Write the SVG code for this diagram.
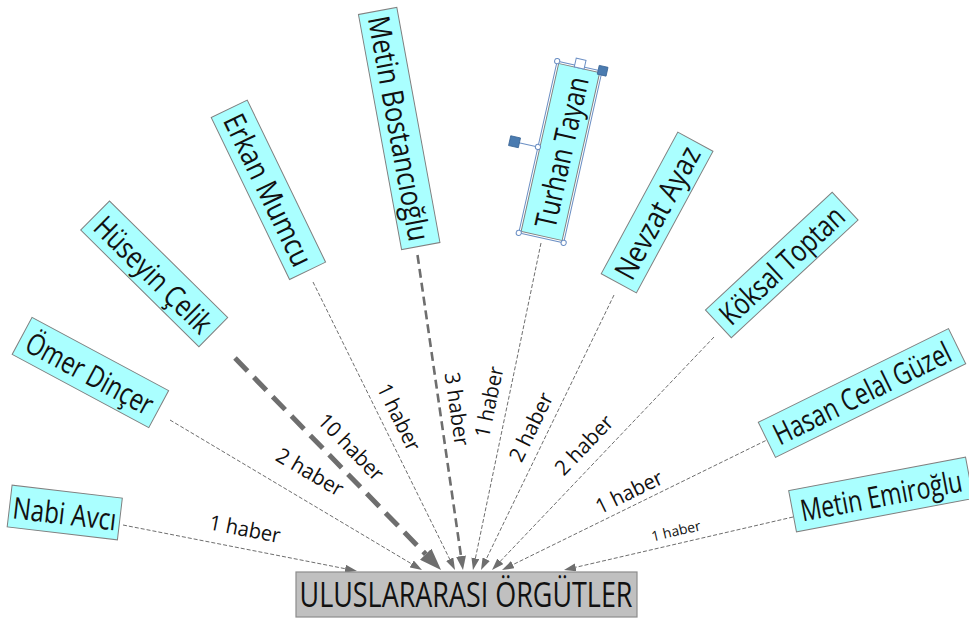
<svg xmlns="http://www.w3.org/2000/svg" width="969" height="619" viewBox="0 0 969 619">
  <style>
    .node rect.box { fill: #aaffff; stroke: #808080; stroke-width: 1; }
    .node text { font-family: "Open Sans", "Noto Sans", "DejaVu Sans", sans-serif; font-size: 30px; fill: #111; text-anchor: middle; }
    .hub rect { fill: #c0c0c0; stroke: #8c8c8c; stroke-width: 1.2; }
    .hub text { font-family: "Open Sans", "Noto Sans", "DejaVu Sans", sans-serif; font-size: 35px; fill: #111; text-anchor: middle; }
    .edge { fill: none; stroke: #6e6e6e; }
    .w1 { stroke-width: 1; stroke-dasharray: 4 2; marker-end: url(#head-s); }
    .w2 { stroke-width: 2.6; stroke-dasharray: 9 5; marker-end: url(#head-m); }
    .w3 { stroke-width: 5; stroke-dasharray: 18 9; marker-end: url(#head-l); }
    .elabel { font-family: "Open Sans", "Noto Sans", "DejaVu Sans", sans-serif; font-size: 21px; fill: #111; text-anchor: middle; }
    .elabel.small { font-size: 14px; }
    .sel { fill: none; stroke: #6b8fc4; stroke-width: 1; }
    .grip { fill: #fff; stroke: #6b8fc4; stroke-width: 1; }
    .knob { fill: #4a7bb0; stroke: #3a6696; stroke-width: 0.8; }
  </style>
  <defs>
    <marker id="head-s" markerUnits="userSpaceOnUse" viewBox="0 0 12 8" markerWidth="12" markerHeight="8" refX="0" refY="4" orient="auto">
      <path d="M0,0 L12,4 L0,8 Z" fill="#6e6e6e"/>
    </marker>
    <marker id="head-m" markerUnits="userSpaceOnUse" viewBox="0 0 14 10" markerWidth="14" markerHeight="10" refX="0" refY="5" orient="auto">
      <path d="M0,0 L14,5 L0,10 Z" fill="#6e6e6e"/>
    </marker>
    <marker id="head-l" markerUnits="userSpaceOnUse" viewBox="0 0 22 16" markerWidth="22" markerHeight="16" refX="0" refY="8" orient="auto">
      <path d="M0,0 L22,8 L0,16 Z" fill="#6e6e6e"/>
    </marker>
  </defs>

  <rect width="969" height="619" fill="#ffffff"/>

  <!-- connectors: each line stops at the base of its arrowhead -->
  <g id="edges">
    <path class="edge w1" d="M123,525 L345.2,568.7"/>
    <path class="edge w1" d="M170,420 L411.7,563.9"/>
    <path class="edge w3" d="M235,358 L425.7,554.2"/>
    <path class="edge w1" d="M313,282 L449.7,559.2"/>
    <path class="edge w2" d="M417.5,255 L461,556.1"/>
    <path class="edge w1" d="M541,243 L475.4,558.3"/>
    <path class="edge w1" d="M614,295 L486.2,559.2"/>
    <path class="edge w1" d="M714,337 L500.3,561.3"/>
    <path class="edge w1" d="M771,438 L512.8,564.7"/>
    <path class="edge w1" d="M793,517 L575.7,567.3"/>
  </g>

  <g id="edge-labels">
    <text class="elabel" transform="translate(245,529) rotate(11)" dy="0.35em" textLength="72" lengthAdjust="spacingAndGlyphs">1 haber</text>
    <text class="elabel" transform="translate(310,472) rotate(30.3)" dy="0.35em" textLength="74" lengthAdjust="spacingAndGlyphs">2 haber</text>
    <text class="elabel" transform="translate(351,447) rotate(46)" dy="0.35em" textLength="84" lengthAdjust="spacingAndGlyphs">10 haber</text>
    <text class="elabel" transform="translate(399,417) rotate(63.9)" dy="0.35em" textLength="72" lengthAdjust="spacingAndGlyphs">1 haber</text>
    <text class="elabel" transform="translate(457,409) rotate(81.8)" dy="0.35em" textLength="74" lengthAdjust="spacingAndGlyphs">3 haber</text>
    <text class="elabel" transform="translate(489,402) rotate(-78.2)" dy="0.35em" textLength="72" lengthAdjust="spacingAndGlyphs">1 haber</text>
    <text class="elabel" transform="translate(531,427) rotate(-64.2)" dy="0.35em" textLength="74" lengthAdjust="spacingAndGlyphs">2 haber</text>
    <text class="elabel" transform="translate(584,445) rotate(-46.4)" dy="0.35em" textLength="74" lengthAdjust="spacingAndGlyphs">2 haber</text>
    <text class="elabel" transform="translate(629,492) rotate(-26.1)" dy="0.35em" textLength="72" lengthAdjust="spacingAndGlyphs">1 haber</text>
    <text class="elabel small" transform="translate(676,531) rotate(-13.1)" dy="0.35em" textLength="50" lengthAdjust="spacingAndGlyphs">1 haber</text>
  </g>

  <!-- person nodes: box centred on the origin, then placed and turned -->
  <g id="n-nabi" class="node" transform="translate(64.75,512.5) rotate(6.7)">
    <rect class="box" x="-55.5" y="-21" width="111" height="42"/>
    <text x="0" y="12" textLength="104" lengthAdjust="spacingAndGlyphs">Nabi Avcı</text>
  </g>
  <g id="n-omer" class="node" transform="translate(90.4,372.5) rotate(28.2)">
    <rect class="box" x="-77.5" y="-21" width="155" height="42"/>
    <text x="0" y="12" textLength="140" lengthAdjust="spacingAndGlyphs">Ömer Dinçer</text>
  </g>
  <g id="n-huseyin" class="node" transform="translate(154.2,273.8) rotate(44.6)">
    <rect class="box" x="-83" y="-20.5" width="166" height="41"/>
    <text x="0" y="12" textLength="152" lengthAdjust="spacingAndGlyphs">Hüseyin Çelik</text>
  </g>
  <g id="n-erkan" class="node" transform="translate(268.4,189.8) rotate(64.2)">
    <rect class="box" x="-90" y="-20" width="180" height="40"/>
    <text x="0" y="11" textLength="165" lengthAdjust="spacingAndGlyphs">Erkan Mumcu</text>
  </g>
  <g id="n-bostanci" class="node" transform="translate(399.2,128.5) rotate(79.6)">
    <rect class="box" x="-119.5" y="-19.5" width="239" height="39"/>
    <text x="0" y="11" textLength="228" lengthAdjust="spacingAndGlyphs">Metin Bostancıoğlu</text>
  </g>
  <g id="n-turhan" class="node" transform="translate(560.4,152) rotate(-77.4)">
    <rect class="box" x="-86" y="-21" width="172" height="42"/>
    <text x="0" y="12" textLength="154" lengthAdjust="spacingAndGlyphs">Turhan Tayan</text>
    <!-- selection frame with its grips -->
    <rect class="sel" x="-88" y="-23" width="176" height="46"/>
    <line x1="0" y1="-23" x2="0" y2="-46" stroke="#6b8fc4" stroke-width="1"/>
    <rect class="knob" x="-5" y="-52" width="10" height="10"/>
    <circle class="grip" cx="0" cy="-23" r="2.6"/>
    <circle class="grip" cx="-88" cy="-23" r="2.6"/>
    <circle class="grip" cx="-88" cy="23" r="2.6"/>
    <circle class="grip" cx="88" cy="-23" r="2.6"/>
    <rect class="grip" x="86" y="-5" width="9" height="10"/>
    <rect class="knob" x="84" y="19" width="9" height="9"/>
  </g>
  <g id="n-nevzat" class="node" transform="translate(657.1,212.5) rotate(-61.6)">
    <rect class="box" x="-80.5" y="-20" width="161" height="40"/>
    <text x="0" y="11" textLength="146" lengthAdjust="spacingAndGlyphs">Nevzat Ayaz</text>
  </g>
  <g id="n-koksal" class="node" transform="translate(781.75,265) rotate(-42.9)">
    <rect class="box" x="-86.5" y="-19" width="173" height="38"/>
    <text x="0" y="11" textLength="158" lengthAdjust="spacingAndGlyphs">Köksal Toptan</text>
  </g>
  <g id="n-hasan" class="node" transform="translate(862,393) rotate(-26.2)">
    <rect class="box" x="-106" y="-19.5" width="212" height="39"/>
    <text x="0" y="11" textLength="194" lengthAdjust="spacingAndGlyphs">Hasan Celal Güzel</text>
  </g>
  <g id="n-emiroglu" class="node" transform="translate(881,494.5) rotate(-10.7)">
    <rect class="box" x="-90" y="-21" width="180" height="42"/>
    <text x="0" y="12" textLength="164" lengthAdjust="spacingAndGlyphs">Metin Emiroğlu</text>
  </g>

  <!-- shared target -->
  <g id="n-orgutler" class="hub">
    <rect x="296" y="572" width="341" height="45"/>
    <text x="466" y="607" textLength="333" lengthAdjust="spacingAndGlyphs">ULUSLARARASI ÖRGÜTLER</text>
  </g>
</svg>
